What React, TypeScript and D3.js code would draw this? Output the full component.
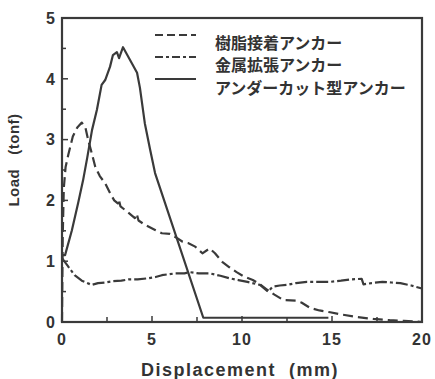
import React from "react";
import * as d3 from "d3";

const xTicks = [0, 5, 10, 15, 20];
const yTicks = [0, 1, 2, 3, 4, 5];
const xMinor = [2.5, 7.5, 12.5, 17.5];
const yMinor = [0.5, 1.5, 2.5, 3.5, 4.5];

const legendLabels = ["樹脂接着アンカー", "金属拡張アンカー", "アンダーカット型アンカー"];

// 樹脂接着アンカー (dashed)
const resin: [number, number][] = [
  [0, 0], [0.04, 1.4], [0.1, 2.2], [0.2, 2.55], [0.35, 2.75], [0.6, 3.05], [0.85, 3.2], [1.1, 3.28],
  [1.3, 3.2], [1.45, 3.0], [1.65, 2.78], [1.85, 2.55], [2.1, 2.4], [2.4, 2.28], [2.67, 2.12], [2.9, 2.0],
  [3.1, 1.95], [3.15, 2.02], [3.25, 1.9], [3.6, 1.82], [4.05, 1.71], [4.15, 1.78], [4.25, 1.67], [4.6, 1.6],
  [5.2, 1.51], [5.55, 1.46], [6.0, 1.45], [6.4, 1.38], [6.7, 1.32], [7.0, 1.3], [7.4, 1.24], [7.8, 1.13],
  [8.2, 1.21], [8.5, 1.13], [8.9, 0.99], [9.3, 0.9], [9.7, 0.82], [10.1, 0.75], [10.6, 0.69], [11.0, 0.62],
  [11.4, 0.53], [11.8, 0.45], [12.3, 0.36], [13.0, 0.35], [13.3, 0.32], [13.8, 0.23], [14.3, 0.19],
  [14.9, 0.16], [15.6, 0.12], [16.4, 0.08], [17.3, 0.05], [18.2, 0.03], [19.0, 0.02], [20, 0.0],
];

// 金属拡張アンカー (dash-dot)
const metal: [number, number][] = [
  [0, 1.05], [0.3, 0.93], [0.7, 0.77], [1.1, 0.68], [1.65, 0.61], [2.0, 0.64], [2.4, 0.65], [2.8, 0.67],
  [3.3, 0.68], [3.7, 0.7], [4.2, 0.7], [4.8, 0.72], [5.2, 0.74], [5.55, 0.77], [6.3, 0.8], [6.8, 0.8],
  [7.1, 0.82], [7.6, 0.8], [8.2, 0.8], [8.8, 0.76], [9.3, 0.72], [9.8, 0.69], [10.3, 0.66], [11.0, 0.61],
  [11.45, 0.5], [11.7, 0.58], [12.1, 0.6], [12.5, 0.61], [13.0, 0.64], [13.6, 0.66], [14.2, 0.66],
  [14.9, 0.66], [15.5, 0.68], [16.0, 0.7], [16.65, 0.71], [16.75, 0.62], [17.2, 0.64], [17.8, 0.66],
  [18.3, 0.65], [18.8, 0.64], [19.4, 0.6], [20, 0.55],
];

// アンダーカット型アンカー (solid)
const undercut: [number, number][] = [
  [0, 1.1], [0.17, 1.1], [0.55, 1.51], [0.9, 1.96], [1.17, 2.33], [1.4, 2.7], [1.67, 3.16], [1.94, 3.49],
  [2.2, 3.9], [2.4, 3.98], [2.67, 4.2], [2.83, 4.39], [3.05, 4.44], [3.17, 4.34], [3.39, 4.52], [3.78, 4.31],
  [4.17, 4.1], [4.33, 3.85], [4.6, 3.27], [4.9, 2.83], [5.17, 2.45], [7.85, 0.07], [14.8, 0.07],
];

const W = 435;
const H = 379;
const left = 62, right = 422, top = 18, bottom = 322;
const ink = "#3a3a3a";

export default function App() {
  const x = d3.scaleLinear().domain([0, 20]).range([left, right]);
  const y = d3.scaleLinear().domain([0, 5]).range([bottom, top]);
  const line = d3.line<[number, number]>().x((d) => x(d[0])).y((d) => y(d[1]));

  const series = [
    { data: resin, dash: "10 5", legendDash: "8 4" },
    { data: metal, dash: "12 3 3 3", legendDash: "8 3 3 3" },
    { data: undercut, dash: "none", legendDash: "none" },
  ];
  const legendLineY = [35, 57, 79];
  const legendTextY = [42, 64, 87];

  return (
    <svg width={W} height={H} style={{ position: "absolute", left: 0, top: 0, background: "#fff" }}>
      <rect x={0} y={0} width={W} height={H} fill="#fff" />
      {/* frame */}
      <rect x={left} y={top} width={right - left} height={bottom - top} fill="none" stroke={ink} strokeWidth={2.2} />
      {/* y ticks */}
      {yTicks.map((t) => (
        <g key={"y" + t}>
          <line x1={left} x2={left + 6} y1={y(t)} y2={y(t)} stroke={ink} strokeWidth={1.5} />
          <text x={55} y={y(t)} dy="0.36em" textAnchor="end" fontFamily="Liberation Sans, Arial, sans-serif"
            fontWeight="bold" fontSize={16} fill="#333">{t}</text>
        </g>
      ))}
      {yMinor.map((t) => (
        <line key={"ym" + t} x1={left} x2={left + 4} y1={y(t)} y2={y(t)} stroke={ink} strokeWidth={1.5} />
      ))}
      {xTicks.map((t) => (
        <g key={"x" + t}>
          <line x1={x(t)} x2={x(t)} y1={bottom} y2={bottom - 6} stroke={ink} strokeWidth={1.5} />
          <text x={x(t)} y={345} textAnchor="middle" fontFamily="Liberation Sans, Arial, sans-serif"
            fontWeight="bold" fontSize={16} fill="#333" letterSpacing={1}>{t}</text>
        </g>
      ))}
      {xMinor.map((t) => (
        <line key={"xm" + t} x1={x(t)} x2={x(t)} y1={bottom} y2={bottom - 5} stroke={ink} strokeWidth={1.5} />
      ))}
      {/* axis titles */}
      <text x={240} y={376} textAnchor="middle" fontFamily="Liberation Sans, Arial, sans-serif" fontWeight="bold"
        fontSize={18} fill="#333" letterSpacing={1.5} style={{ whiteSpace: "pre" }}>{"Displacement  (mm)"}</text>
      <text transform="translate(19,160) rotate(-90)" textAnchor="middle" fontFamily="Liberation Sans, Arial, sans-serif"
        fontWeight="bold" fontSize={15} fill="#333" letterSpacing={0.5} style={{ whiteSpace: "pre" }}>{"Load   (tonf)"}</text>
      {/* curves */}
      {series.map((s, i) => (
        <path key={"s" + i} d={line(s.data) || ""} fill="none" stroke={ink} strokeWidth={2.2}
          strokeDasharray={s.dash} strokeLinejoin="round" />
      ))}
      {/* legend */}
      {series.map((s, i) => (
        <g key={"l" + i}>
          <line x1={155} x2={196} y1={legendLineY[i]} y2={legendLineY[i]} stroke={ink} strokeWidth={2}
            strokeDasharray={s.legendDash} />
          <text x={215} y={legendTextY[i]} dominantBaseline="central" fontFamily="Noto Sans CJK JP, sans-serif"
            fontWeight={700} fontSize={16} fill="#333">{legendLabels[i]}</text>
        </g>
      ))}
    </svg>
  );
}
